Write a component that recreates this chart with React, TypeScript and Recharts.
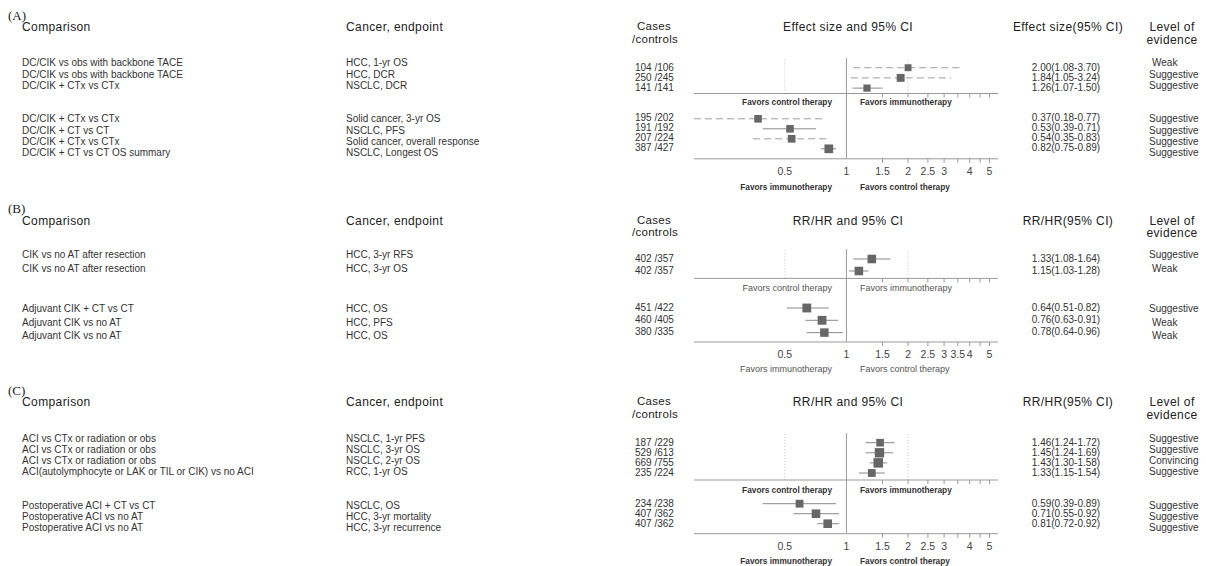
import React from 'react';
import { ScatterChart, Scatter, XAxis, YAxis, ReferenceLine } from 'recharts';

// ---- Panel A: DC/CIK ----
const comparisonA = [
  'DC/CIK vs obs with backbone TACE',
  'DC/CIK vs obs with backbone TACE',
  'DC/CIK + CTx vs CTx',
  'DC/CIK + CTx vs CTx',
  'DC/CIK + CT vs CT',
  'DC/CIK + CTx vs CTx',
  'DC/CIK + CT vs CT OS summary',
];
const endpointA = [
  'HCC, 1-yr OS',
  'HCC, DCR',
  'NSCLC, DCR',
  'Solid cancer, 3-yr OS',
  'NSCLC, PFS',
  'Solid cancer, overall response',
  'NSCLC, Longest OS',
];
const casesA = [104, 250, 141, 195, 191, 207, 387];
const controlsA = [106, 245, 141, 202, 192, 224, 427];
const estA = [2.0, 1.84, 1.26, 0.37, 0.53, 0.54, 0.82];
const lowA = [1.08, 1.05, 1.07, 0.18, 0.39, 0.35, 0.75];
const highA = [3.7, 3.24, 1.5, 0.77, 0.71, 0.83, 0.89];
const evidenceA = ['Weak', 'Suggestive', 'Suggestive', 'Suggestive', 'Suggestive', 'Suggestive', 'Suggestive'];
const tickLabelsA = [0.5, 1, 1.5, 2, 2.5, 3, 4, 5];

// ---- Panel B: CIK ----
const comparisonB = [
  'CIK vs no AT after resection',
  'CIK vs no AT after resection',
  'Adjuvant CIK + CT vs CT',
  'Adjuvant CIK vs no AT',
  'Adjuvant CIK vs no AT',
];
const endpointB = ['HCC, 3-yr RFS', 'HCC, 3-yr OS', 'HCC, OS', 'HCC, PFS', 'HCC, OS'];
const casesB = [402, 402, 451, 460, 380];
const controlsB = [357, 357, 422, 405, 335];
const estB = [1.33, 1.15, 0.64, 0.76, 0.78];
const lowB = [1.08, 1.03, 0.51, 0.63, 0.64];
const highB = [1.64, 1.28, 0.82, 0.91, 0.96];
const evidenceB = ['Suggestive', 'Weak', 'Suggestive', 'Weak', 'Weak'];
const tickLabelsB = [0.5, 1, 1.5, 2, 2.5, 3, 3.5, 4, 5];

// ---- Panel C: ACI ----
const comparisonC = [
  'ACI vs CTx or radiation or obs',
  'ACI vs CTx or radiation or obs',
  'ACI vs CTx or radiation or obs',
  'ACI(autolymphocyte or LAK or TIL or CIK) vs no ACI',
  'Postoperative ACI + CT vs CT',
  'Postoperative ACI vs no AT',
  'Postoperative ACI vs no AT',
];
const endpointC = [
  'NSCLC, 1-yr PFS',
  'NSCLC, 3-yr OS',
  'NSCLC, 2-yr OS',
  'RCC, 1-yr OS',
  'NSCLC, OS',
  'HCC, 3-yr mortality',
  'HCC, 3-yr recurrence',
];
const casesC = [187, 529, 669, 235, 234, 407, 407];
const controlsC = [229, 613, 755, 224, 238, 362, 362];
const estC = [1.46, 1.45, 1.43, 1.33, 0.59, 0.71, 0.81];
const lowC = [1.24, 1.24, 1.3, 1.15, 0.39, 0.55, 0.72];
const highC = [1.72, 1.69, 1.58, 1.54, 0.89, 0.92, 0.92];
const evidenceC = ['Suggestive', 'Suggestive', 'Convincing', 'Suggestive', 'Suggestive', 'Suggestive', 'Suggestive'];
const tickLabelsC = [0.5, 1, 1.5, 2, 2.5, 3, 4, 5];

const AXIS_TICKS = [0.5, 1, 1.5, 2, 2.5, 3, 3.5, 4, 4.5, 5];
const X_DOMAIN: [number, number] = [0.18, 5.5];
const PLOT_LEFT = 694;
const PLOT_WIDTH = 304;
const FONT = '"Liberation Sans", Arial, sans-serif';

interface PanelLayout {
  tag: string;
  title: string;
  effectHeader: string;
  split: number; // rows in the upper group
  dashed: number[];
  tagY: number;
  headY: number;
  subY: number;
  lineTop: number;
  upperFirst: number;
  upperStep: number;
  mid: number;
  favorsMid: number;
  lowerFirst: number;
  lowerStep: number;
  bottom: number;
  favorsBottom: number;
  textUpper: [number, number];
  textLower: [number, number];
  boldFavors: boolean;
}

const T = ({ x, y, children, size = 10, align = 'left', color = '#333', weight = 'normal', family = FONT, spacing = 0 }: any) => {
  const tx = align === 'center' ? '-50%' : align === 'right' ? '-100%' : '0';
  return (
    <div
      style={{
        position: 'absolute',
        left: x,
        top: y,
        transform: `translate(${tx}, -50%)`,
        fontSize: size,
        lineHeight: 1,
        color,
        fontWeight: weight,
        fontFamily: family,
        letterSpacing: spacing,
        whiteSpace: 'nowrap',
      }}
    >
      {children}
    </div>
  );
};

const AxisTick = ({ x, y, payload, labels }: any) => {
  const v = payload.value;
  return (
    <g>
      {v >= 1.5 && <line x1={x} x2={x} y1={y} y2={y + 4} stroke="#999" />}
      {labels && labels.includes(v) && (
        <text x={x} y={y + 16} textAnchor="middle" fontSize={10.5} fill="#444" fontFamily={FONT}>
          {v}
        </text>
      )}
    </g>
  );
};

// box side grows with the pooled sample size
const boxSide = (n: number) => Math.min(9.5, 5 + 0.13 * Math.sqrt(n));

const Box = (p: any) => {
  const s = boxSide(p.payload.n);
  return <rect x={p.cx - s / 2} y={p.cy - s / 2} width={s} height={s} fill="#666" />;
};

interface Row {
  row: number;
  est: number;
  low: number;
  high: number;
  n: number;
  dashed: boolean;
}

const ForestPart = ({ rows, top, height, first, step, axisHeight, labels, dotted }: any) => {
  const domain = [-first / step, (height - first) / step];
  return (
    <div style={{ position: 'absolute', left: PLOT_LEFT, top }}>
      <ScatterChart width={PLOT_WIDTH} height={height + axisHeight} margin={{ top: 0, right: 0, bottom: 0, left: 0 }}>
        <XAxis
          type="number"
          dataKey="est"
          scale="log"
          domain={X_DOMAIN}
          allowDataOverflow
          ticks={AXIS_TICKS}
          interval={0}
          height={axisHeight}
          tickSize={0}
          tickMargin={0}
          tickLine={false}
          axisLine={{ stroke: '#999' }}
          tick={<AxisTick labels={labels} />}
        />
        <YAxis type="number" dataKey="row" domain={domain} reversed hide allowDataOverflow />
        {dotted && <ReferenceLine x={0.5} stroke="#c4c4c4" strokeDasharray="1 2" />}
        {dotted && <ReferenceLine x={2} stroke="#c4c4c4" strokeDasharray="1 2" />}
        <ReferenceLine x={1} stroke="#999" />
        {rows.map((r: Row) => (
          <ReferenceLine
            key={r.row}
            segment={[
              { x: r.low, y: r.row },
              { x: r.high, y: r.row },
            ]}
            stroke={r.dashed ? '#a0a0a0' : '#8a8a8a'}
            strokeDasharray={r.dashed ? '7 4' : undefined}
            ifOverflow="visible"
          />
        ))}
        <Scatter data={rows} isAnimationActive={false} shape={Box} />
      </ScatterChart>
    </div>
  );
};

const Panel = ({ layout, comparison, endpoint, cases, controls, est, low, high, evidence, tickLabels }: any) => {
  const L: PanelLayout = layout;
  const all: Row[] = est.map((e: number, i: number) => ({
    row: i < L.split ? i : i - L.split,
    est: e,
    low: low[i],
    high: high[i],
    n: cases[i] + controls[i],
    dashed: L.dashed.includes(i),
  }));
  const upper = all.slice(0, L.split);
  const lower = all.slice(L.split);
  const plotY = (i: number) =>
    i < L.split ? L.upperFirst + i * L.upperStep : L.lowerFirst + (i - L.split) * L.lowerStep;
  const textY = (i: number) =>
    i < L.split ? L.textUpper[0] + i * L.textUpper[1] : L.textLower[0] + (i - L.split) * L.textLower[1];
  const favorsCls = { size: L.boldFavors ? 8.3 : 9, weight: L.boldFavors ? 'bold' : 'normal', color: L.boldFavors ? '#333' : '#555' };

  return (
    <>
      <T x={8} y={L.tagY} size={13} color="#222" family='"Liberation Serif", "Times New Roman", serif'>
        {L.tag}
      </T>
      <T x={22} y={L.headY} size={12} color="#222" spacing={0.4}>Comparison</T>
      <T x={346} y={L.headY} size={12} color="#222" spacing={0.4}>Cancer, endpoint</T>
      <T x={654} y={L.headY} size={11.5} color="#222" align="center" spacing={0.3}>Cases</T>
      <T x={655} y={L.subY} size={11.5} color="#222" align="center" spacing={0.3}>/controls</T>
      <T x={848} y={L.headY} size={12} color="#222" align="center" spacing={0.4}>{L.title}</T>
      <T x={1068} y={L.headY} size={12} color="#222" align="center" spacing={0.4}>{L.effectHeader}</T>
      <T x={1172} y={L.headY} size={12} color="#222" align="center" spacing={0.4}>Level of</T>
      <T x={1172} y={L.subY} size={12} color="#222" align="center" spacing={0.4}>evidence</T>

      {comparison.map((c: string, i: number) => (
        <T key={'c' + i} x={22} y={textY(i)}>{c}</T>
      ))}
      {endpoint.map((c: string, i: number) => (
        <T key={'e' + i} x={346} y={textY(i)}>{c}</T>
      ))}
      {evidence.map((c: string, i: number) => (
        <T key={'l' + i} x={c === 'Weak' ? 1152 : 1149} y={textY(i)}>{c}</T>
      ))}
      {cases.map((c: number, i: number) => (
        <T key={'n' + i} x={635} y={plotY(i)}>{`${c} /${controls[i]}`}</T>
      ))}
      {est.map((e: number, i: number) => (
        <T key={'r' + i} x={1066} y={plotY(i)} align="center">
          {`${e.toFixed(2)}(${low[i].toFixed(2)}-${high[i].toFixed(2)})`}
        </T>
      ))}

      <ForestPart
        rows={upper}
        top={L.lineTop}
        height={L.mid - L.lineTop}
        first={L.upperFirst - L.lineTop}
        step={L.upperStep}
        axisHeight={6}
        labels={null}
        dotted
      />
      <ForestPart
        rows={lower}
        top={L.mid}
        height={L.bottom - L.mid}
        first={L.lowerFirst - L.mid}
        step={L.lowerStep}
        axisHeight={22}
        labels={tickLabels}
        dotted={false}
      />

      <T x={832} y={L.favorsMid} align="right" {...favorsCls}>Favors control therapy</T>
      <T x={860} y={L.favorsMid} {...favorsCls}>Favors immunotherapy</T>
      <T x={832} y={L.favorsBottom} align="right" {...favorsCls}>Favors immunotherapy</T>
      <T x={860} y={L.favorsBottom} {...favorsCls}>Favors control therapy</T>
    </>
  );
};

const layoutA: PanelLayout = {
  tag: '(A)',
  title: 'Effect size and 95% CI',
  effectHeader: 'Effect size(95% CI)',
  split: 3,
  dashed: [0, 1, 3, 5],
  tagY: 15,
  headY: 27,
  subY: 40,
  lineTop: 58,
  upperFirst: 67.7,
  upperStep: 10.2,
  mid: 93.5,
  favorsMid: 102.3,
  lowerFirst: 118.3,
  lowerStep: 10,
  bottom: 158.3,
  favorsBottom: 187,
  textUpper: [63.3, 11.3],
  textLower: [119.3, 11.3],
  boldFavors: true,
};

const layoutB: PanelLayout = {
  tag: '(B)',
  title: 'RR/HR and 95% CI',
  effectHeader: 'RR/HR(95% CI)',
  split: 2,
  dashed: [],
  tagY: 208.3,
  headY: 221,
  subY: 232.7,
  lineTop: 249.3,
  upperFirst: 259.3,
  upperStep: 12,
  mid: 278.7,
  favorsMid: 287.7,
  lowerFirst: 307.7,
  lowerStep: 12.3,
  bottom: 341.7,
  favorsBottom: 369,
  textUpper: [255, 14],
  textLower: [309, 13.5],
  boldFavors: false,
};

const layoutC: PanelLayout = {
  tag: '(C)',
  title: 'RR/HR and 95% CI',
  effectHeader: 'RR/HR(95% CI)',
  split: 4,
  dashed: [],
  tagY: 390,
  headY: 402.3,
  subY: 414.7,
  lineTop: 433,
  upperFirst: 442.7,
  upperStep: 10.1,
  mid: 480,
  favorsMid: 490.3,
  lowerFirst: 503.7,
  lowerStep: 10,
  bottom: 533.7,
  favorsBottom: 560.5,
  textUpper: [439, 11],
  textLower: [505.7, 11],
  boldFavors: true,
};

export default function App() {
  return (
    <div style={{ position: 'absolute', left: 0, top: 0, width: 1206, height: 566, background: '#fff', overflow: 'hidden', fontFamily: FONT }}>
      <Panel
        layout={layoutA}
        comparison={comparisonA}
        endpoint={endpointA}
        cases={casesA}
        controls={controlsA}
        est={estA}
        low={lowA}
        high={highA}
        evidence={evidenceA}
        tickLabels={tickLabelsA}
      />
      <Panel
        layout={layoutB}
        comparison={comparisonB}
        endpoint={endpointB}
        cases={casesB}
        controls={controlsB}
        est={estB}
        low={lowB}
        high={highB}
        evidence={evidenceB}
        tickLabels={tickLabelsB}
      />
      <Panel
        layout={layoutC}
        comparison={comparisonC}
        endpoint={endpointC}
        cases={casesC}
        controls={controlsC}
        est={estC}
        low={lowC}
        high={highC}
        evidence={evidenceC}
        tickLabels={tickLabelsC}
      />
    </div>
  );
}
